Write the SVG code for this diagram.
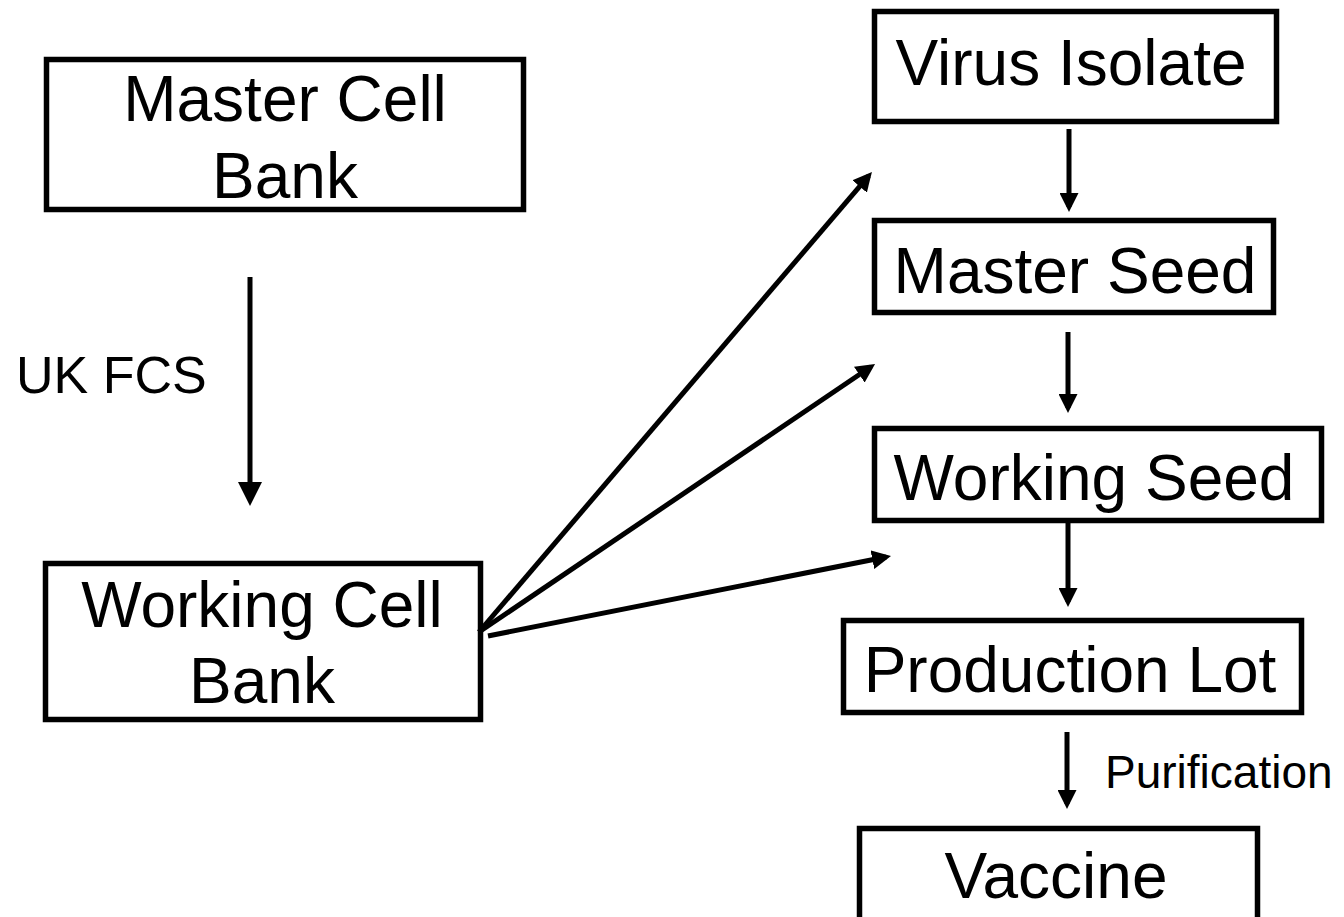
<svg xmlns="http://www.w3.org/2000/svg" width="1344" height="917" viewBox="0 0 1344 917">
  <style>
    .box { fill: #ffffff; stroke: #000000; stroke-width: 5.5; }
    .lbl { font-family: "Liberation Sans", Arial, sans-serif; font-size: 64px; fill: #000000; text-anchor: middle; }
    .note { font-family: "Liberation Sans", Arial, sans-serif; fill: #000000; }
    .conn { stroke: #000000; stroke-width: 5; fill: none; }
  </style>
  <defs>
    <marker id="ah" markerUnits="userSpaceOnUse" markerWidth="19" markerHeight="19" viewBox="0 0 19 19" refX="14" refY="9.5" orient="auto">
      <path d="M0,0 L19,9.5 L0,19 z" fill="#000000"/>
    </marker>
    <marker id="ahBig" markerUnits="userSpaceOnUse" markerWidth="24" markerHeight="24" viewBox="0 0 24 24" refX="18" refY="12" orient="auto">
      <path d="M0,0 L24,12 L0,24 z" fill="#000000"/>
    </marker>
  </defs>
  <rect width="1344" height="917" fill="#ffffff"/>

  <g id="master-cell-bank">
    <rect class="box" x="46.5" y="59.5" width="477" height="150"/>
    <text class="lbl" x="285" y="121">Master Cell</text>
    <text class="lbl" x="285" y="198">Bank</text>
  </g>

  <g id="working-cell-bank">
    <rect class="box" x="45.5" y="563.5" width="435" height="156"/>
    <text class="lbl" x="262" y="627">Working Cell</text>
    <text class="lbl" x="262" y="703">Bank</text>
  </g>

  <g id="virus-isolate">
    <rect class="box" x="874.5" y="11.5" width="402" height="110"/>
    <text class="lbl" x="1071" y="85">Virus Isolate</text>
  </g>

  <g id="master-seed">
    <rect class="box" x="874.5" y="220.5" width="399" height="92"/>
    <text class="lbl" x="1075" y="293">Master Seed</text>
  </g>

  <g id="working-seed">
    <rect class="box" x="874.5" y="428.5" width="447" height="92"/>
    <text class="lbl" x="1094" y="500">Working Seed</text>
  </g>

  <g id="production-lot">
    <rect class="box" x="843.5" y="620.5" width="458" height="92"/>
    <text class="lbl" x="1070" y="692">Production Lot</text>
  </g>

  <g id="vaccine">
    <rect class="box" x="859.5" y="828.5" width="398" height="120"/>
    <text class="lbl" x="1056" y="898">Vaccine</text>
  </g>

  <g id="connectors">
    <line class="conn" x1="250" y1="277" x2="250" y2="500" stroke-width="6" marker-end="url(#ahBig)"/>
    <text class="note" x="16" y="393" font-size="52">UK FCS</text>

    <line class="conn" x1="479" y1="632" x2="868.7" y2="175.8" marker-end="url(#ah)"/>
    <line class="conn" x1="479" y1="632" x2="870.9" y2="366.8" marker-end="url(#ah)"/>
    <line class="conn" x1="488" y1="636" x2="886.1" y2="557" marker-end="url(#ah)"/>

    <line class="conn" x1="1069" y1="129" x2="1069" y2="207" marker-end="url(#ah)"/>
    <line class="conn" x1="1068" y1="332" x2="1068" y2="408" marker-end="url(#ah)"/>
    <line class="conn" x1="1068" y1="523" x2="1068" y2="602" marker-end="url(#ah)"/>
    <line class="conn" x1="1067" y1="732" x2="1067" y2="804" marker-end="url(#ah)"/>
    <text class="note" x="1105" y="788" font-size="46">Purification</text>
  </g>
</svg>
